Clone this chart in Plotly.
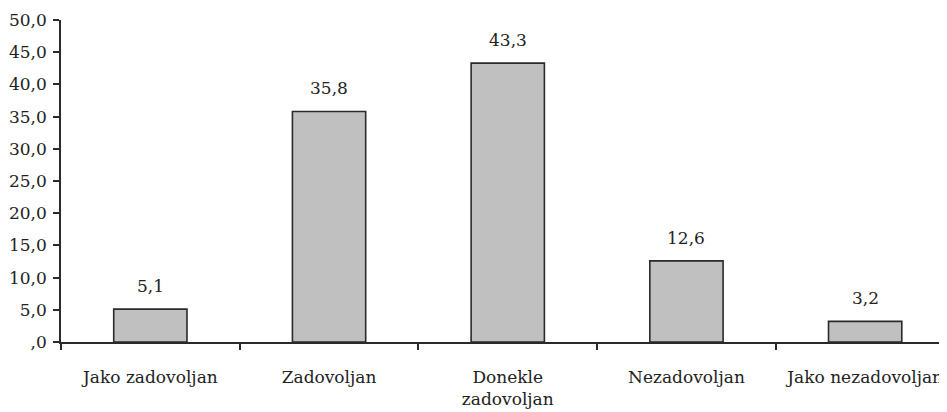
import plotly.graph_objects as go

categories = ["Jako zadovoljan", "Zadovoljan", "Donekle<br>zadovoljan", "Nezadovoljan", "Jako nezadovoljan"]
values = [5.1, 35.8, 43.3, 12.6, 3.2]
y_tick_vals = [0, 5, 10, 15, 20, 25, 30, 35, 40, 45, 50]
y_tick_text = [",0", "5,0", "10,0", "15,0", "20,0", "25,0", "30,0", "35,0", "40,0", "45,0", "50,0"]

font = dict(family="DejaVu Serif", size=17, color="#222222")

fig = go.Figure()
fig.add_trace(go.Bar(
    x=categories, y=values,
    width=0.41,
    marker=dict(color="#c0c0c0", line=dict(color="#2a2a2a", width=1.6)),
    hoverinfo="skip",
))

for c, v in zip(categories, values):
    fig.add_annotation(x=c, y=v, text=f"{v:.1f}".replace(".", ","),
                       showarrow=False, yanchor="bottom", yshift=11, font=font)

# page body has an 8px default margin: compensate so the plot lands where the reference has it
fig.update_layout(
    width=939, height=404,
    margin=dict(l=53, r=0, t=12, b=70, autoexpand=False),
    paper_bgcolor="white", plot_bgcolor="white",
    font=font,
    showlegend=False,
)
fig.update_xaxes(
    range=[-0.5, 4.458], automargin=False,
    showline=True, linecolor="#2a2a2a", linewidth=1.5,
    ticks="outside", tickson="boundaries", ticklen=6, tickcolor="#2a2a2a", tickwidth=1.5,
    showgrid=False, zeroline=False, ticklabelstandoff=19,
    tickfont=font,
)
fig.update_yaxes(
    range=[0, 50], automargin=False,
    tickvals=y_tick_vals, ticktext=y_tick_text,
    showline=True, linecolor="#2a2a2a", linewidth=1.5,
    ticks="outside", ticklen=6, tickcolor="#2a2a2a", tickwidth=1.5,
    showgrid=False, zeroline=False, ticklabelstandoff=3,
    tickfont=font,
)

fig.write_html("out.html")
